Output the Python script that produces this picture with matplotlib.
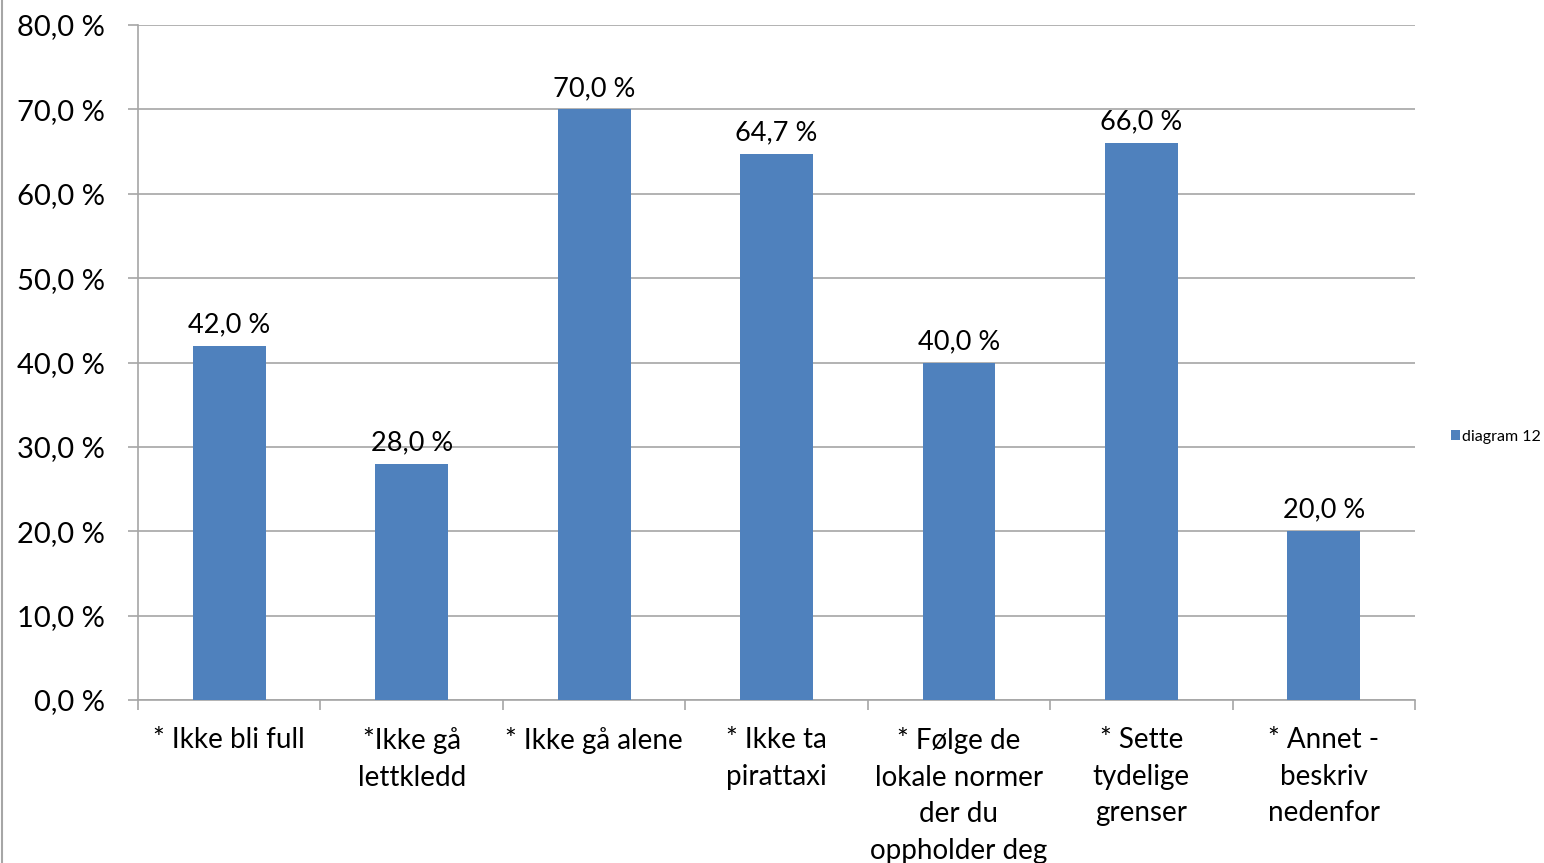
import matplotlib.pyplot as plt
import numpy as np
from matplotlib.lines import Line2D

categories = ["* Ikke bli full", "*Ikke gå\nlettkledd", "* Ikke gå alene",
              "* Ikke ta\npirattaxi", "* Følge de\nlokale normer\nder du\noppholder deg",
              "* Sette\ntydelige\ngrenser", "* Annet -\nbeskriv\nnedenfor"]
values = [42.0, 28.0, 70.0, 64.7, 40.0, 66.0, 20.0]
y_ticks = [0, 10, 20, 30, 40, 50, 60, 70, 80]
series_name = "diagram 12"

def pct(v):
    return f"{v:.1f}".replace(".", ",") + " %"

plt.rcParams['font.family'] = ['Lato', 'DejaVu Sans']

fig = plt.figure(figsize=(15.44, 8.63), dpi=100)
ax = fig.add_axes([0.0894, 0.1889, 0.9165 - 0.0894, 0.971 - 0.1889])

x = np.arange(len(categories))
ax.bar(x, values, width=0.4, color="#4F81BD", zorder=3, label=series_name)

for xi, v in zip(x, values):
    ax.text(xi, v + 1.0, pct(v), ha="center", va="bottom", fontsize=19.5, color="black")

ax.set_xlim(-0.5, len(categories) - 0.5)
ax.set_ylim(0, 80)
ax.set_yticks(y_ticks)
ax.set_yticklabels([pct(t) for t in y_ticks], fontsize=21)
ax.yaxis.grid(True, color="#a6a6a6", linewidth=1.2, zorder=0)

ax.set_xticks(x)
ax.set_xticklabels(categories, fontsize=20, linespacing=1.5, va="top")
ax.set_xticks(np.arange(len(categories) + 1) - 0.5, minor=True)
ax.tick_params(axis="x", which="major", length=0, pad=19.5)
ax.tick_params(axis="x", which="minor", length=7, color="#a6a6a6", width=1.2)
ax.tick_params(axis="y", length=7, color="#a6a6a6", width=1.2, pad=17)

for s in ["top", "right"]:
    ax.spines[s].set_visible(False)
for s in ["left", "bottom"]:
    ax.spines[s].set_color("#a6a6a6")
    ax.spines[s].set_linewidth(1.2)

ax.legend(loc="center left", bbox_to_anchor=(1.017, 0.39), frameon=False, fontsize=11.5,
          handlelength=0.55, handleheight=0.55, handletextpad=0.1)

fig.add_artist(Line2D([0.001, 0.001], [0, 1], color="#a6a6a6", linewidth=1.5))

fig.savefig("out.png", dpi=100)
